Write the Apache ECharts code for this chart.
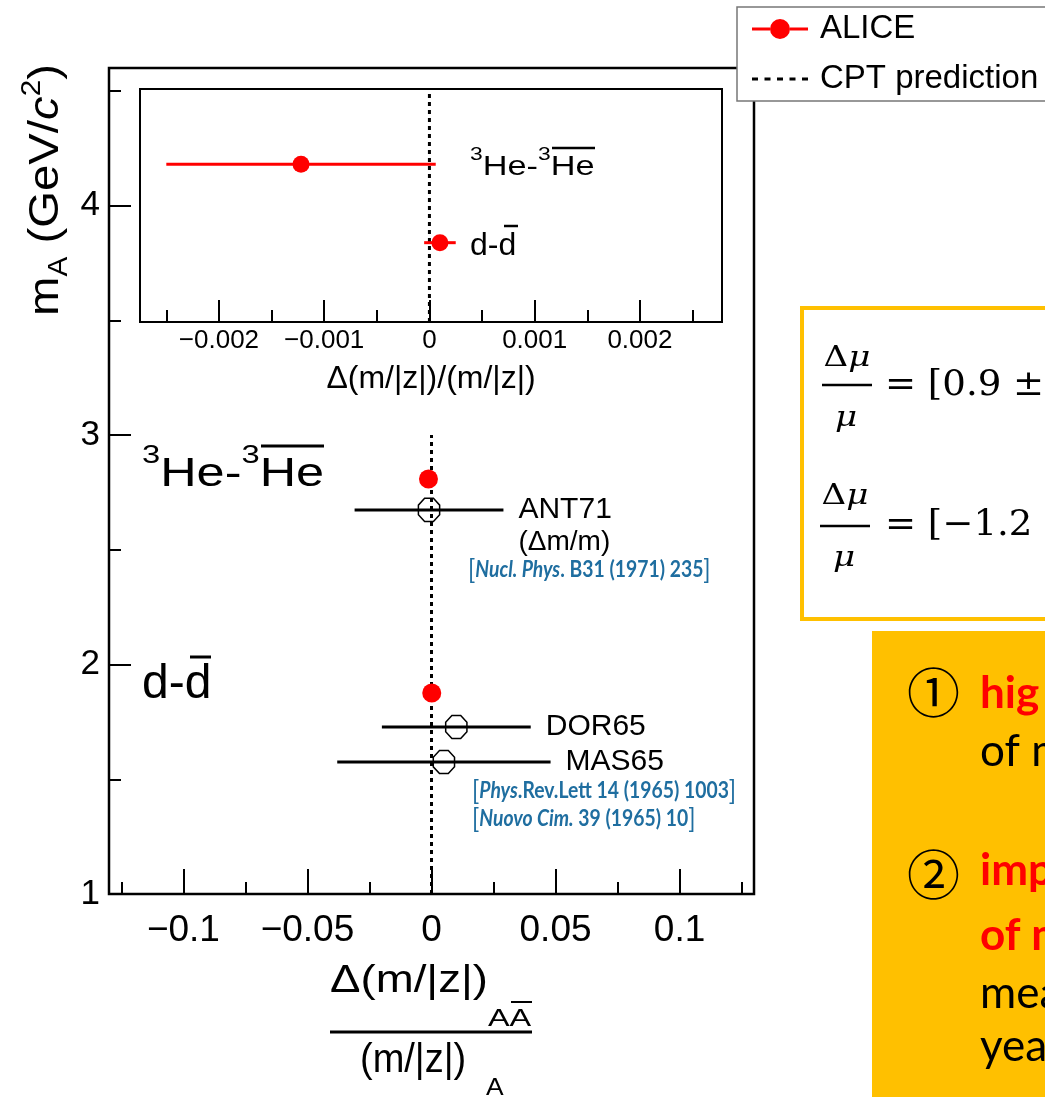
<!DOCTYPE html>
<html>
<head>
<meta charset="utf-8">
<script src="https://cdn.jsdelivr.net/npm/echarts@6/dist/echarts.min.js"></script>
<style>
  html, body { margin: 0; padding: 0; background: #fff; }
  #chart { width: 1045px; height: 1097px; }
</style>
</head>
<body>
<div id="chart"></div>
<script>
// ---- axis ticks ----
const massTicks = [1, 2, 3, 4];
const massMinorTicks = [1.5, 2.5, 3.5, 4.5];
const deltaTicks = [-0.1, -0.05, 0, 0.05, 0.1];
const deltaMinorTicks = [-0.125, -0.075, -0.025, 0.025, 0.075, 0.125];
const zoomTicks = [-0.002, -0.001, 0, 0.001, 0.002];
const zoomMinorTicks = [-0.0025, -0.0015, -0.0005, 0.0005, 0.0015, 0.0025];

// ---- axis ranges ----
const mainDeltaRange = [-0.13, 0.13];
const mainMassRange = [1, 4.6];
const zoomDeltaRange = [-0.00275, 0.00278];
const zoomMassRange = [0.932, 3.705];

// ---- ALICE: relative mass-over-charge difference ----
const aliceSpecies = ['3He', 'd'];
const aliceMass = [2.809, 1.876];
const aliceDelta = [-0.00122, 0.0001];
const aliceError = [0.00128, 0.00015];

// ---- earlier measurements ----
const refNames = ['ANT71', 'DOR65', 'MAS65'];
const refNotes = ['(Δm/m)', '', ''];
const refMass = [2.674, 1.728, 1.575];
const refDelta = [-0.001, 0.01, 0.005];
const refError = [0.030, 0.030, 0.043];

// ---- CPT expectation (no difference) ----
const cptDelta = 0;
const cptMainMass = [1, 3];

const SANS = 'Liberation Sans, Arial, Helvetica, sans-serif';
const CAL = 'Lato, "Open Sans", sans-serif';
const MATH = '"DejaVu Serif", "Liberation Serif", serif';
const CITE = '#1f6ea0';
const GOLD = '#FFC000';

const fmt = v => v === 0 ? '0' : (v < 0 ? '\u2212' + String(-v) : String(v));

function valueAxis(gridIndex, range, extra) {
  return Object.assign({
    type: 'value', gridIndex, min: range[0], max: range[1],
    axisLine: { show: false, onZero: false },
    splitLine: { show: false },
    axisLabel: { show: false },
    axisTick: { show: false }
  }, extra);
}
const tickLine = { color: '#000', width: 2 };

// error bar + open octagon marker + name for the earlier measurements
function renderRef(params, api) {
  const i = params.dataIndex;
  const x = api.value(0), m = api.value(1), e = api.value(2);
  const c = api.coord([x, m]);
  const lo = api.coord([x - e, m]);
  const hi = api.coord([x + e, m]);
  const pts = [];
  for (let k = 0; k < 8; k++) {
    const a = Math.PI / 8 + k * Math.PI / 4;
    pts.push([c[0] + 11.5 * Math.cos(a), c[1] + 12.5 * Math.sin(a)]);
  }
  const children = [
    { type: 'line', shape: { x1: lo[0], y1: c[1], x2: hi[0], y2: c[1] }, style: { stroke: '#000', lineWidth: 3 } },
    { type: 'polygon', shape: { points: pts }, style: { fill: 'none', stroke: '#000', lineWidth: 1.5 } },
    { type: 'text', x: hi[0] + 15, y: c[1], style: { text: refNames[i], fontSize: 30, fontFamily: SANS, fill: '#000', align: 'left', verticalAlign: 'middle' } }
  ];
  if (refNotes[i]) {
    children.push({ type: 'text', x: hi[0] + 15, y: c[1] + 32, style: { text: refNotes[i], fontSize: 28, fontFamily: SANS, fill: '#000', align: 'left', verticalAlign: 'middle' } });
  }
  return { type: 'group', children };
}

// horizontal error bar for the ALICE points
function renderErr(params, api) {
  const x = api.value(0), m = api.value(1), e = api.value(2);
  const lo = api.coord([x - e, m]);
  const hi = api.coord([x + e, m]);
  return { type: 'line', shape: { x1: lo[0], y1: lo[1], x2: hi[0], y2: hi[1] }, style: { stroke: '#ff0000', lineWidth: 3 } };
}

const aliceErrData = aliceSpecies.map((s, i) => [aliceDelta[i], aliceMass[i], aliceError[i]]);
const alicePoints = aliceSpecies.map((s, i) => [aliceDelta[i], aliceMass[i]]);
const refData = refNames.map((n, i) => [refDelta[i], refMass[i], refError[i]]);

// legend icons: line with a dot, and a dotted line (bbox 63 x 20)
const iconAlice = 'path://M0,0H0.1V0.1H0Z M62.9,19.9H63V20H62.9Z M0,8.5H18V11.5H0Z M38,8.5H56V11.5H38Z M18,10A10,10,0,1,0,38,10A10,10,0,1,0,18,10Z';
const iconCpt = 'path://M0,0H0.1V0.1H0Z M62.9,19.9H63V20H62.9Z M0,8.5H6V11.5H0Z M12.5,8.5H18.5V11.5H12.5Z M25,8.5H31V11.5H25Z M37.5,8.5H43.5V11.5H37.5Z M50,8.5H56V11.5H50Z';

function txt(x, y, text, style, extra) {
  return Object.assign({ type: 'text', x, y, silent: true,
    style: Object.assign({ text, fill: '#000', align: 'left', verticalAlign: 'middle' }, style) }, extra || {});
}
function hline(x1, x2, y, w, color) {
  return { type: 'line', silent: true, shape: { x1, y1: y, x2, y2: y }, style: { stroke: color || '#000', lineWidth: w } };
}

const heRich = (big, small, lh) => ({
  t: { fontSize: big, fontFamily: SANS, lineHeight: lh },
  s: { fontSize: small, fontFamily: SANS, lineHeight: small, verticalAlign: 'top' }
});
const citeRich = {
  k: { fontSize: 27, fontFamily: CAL, fill: CITE },
  i: { fontSize: 22, fontFamily: CAL, fontWeight: 'bold', fontStyle: 'italic', fill: CITE },
  b: { fontSize: 22, fontFamily: CAL, fontWeight: 'bold', fill: CITE }
};
const fracRich = {
  u: { fontSize: 28, fontFamily: MATH },
  i: { fontSize: 28, fontFamily: MATH, fontStyle: 'italic' }
};

const graphics = [
  // y-axis title
  txt(46, 190, '{t|m}{s|A}{t| (GeV/}{i|c}{p|2}{t|)}', {
    align: 'center', fontSize: 43, fontFamily: SANS,
    rich: {
      t: { fontSize: 43, fontFamily: SANS, lineHeight: 54 },
      s: { fontSize: 27, fontFamily: SANS, lineHeight: 22, verticalAlign: 'bottom' },
      i: { fontSize: 43, fontFamily: SANS, fontStyle: 'italic', lineHeight: 54 },
      p: { fontSize: 27, fontFamily: SANS, lineHeight: 27, verticalAlign: 'top' }
    }
  }, { rotation: Math.PI / 2, scaleX: 1.1 }),

  // species labels, main panel
  txt(142, 475, '{s|3}{t|He-}{s|3}{t|He}', { rich: heRich(40, 26, 64) }, { scaleX: 1.26 }),
  hline(261, 324, 446, 3),
  txt(142, 685, 'd-d', { fontSize: 48, fontFamily: SANS }),
  hline(190, 211, 657, 3),

  // species labels, zoomed panel
  txt(470, 168, '{s|3}{t|He-}{s|3}{t|He}', { rich: heRich(27, 18, 44) }, { scaleX: 1.27 }),
  hline(552, 595, 148, 2.5),
  txt(470, 246, 'd-d', { fontSize: 32, fontFamily: SANS }),
  hline(504, 518, 226, 2.5),

  // x-axis title of the main panel (fraction)
  txt(330, 982, 'Δ(m/|z|)', { fontSize: 38, fontFamily: SANS }, { scaleX: 1.2 }),
  txt(488, 1019, 'AA', { fontSize: 24, fontFamily: SANS }, { scaleX: 1.35 }),
  hline(511, 532, 1002, 2),
  hline(330, 532, 1032, 3),
  txt(360, 1061, '(m/|z|)', { fontSize: 40, fontFamily: SANS }, { scaleX: 0.95 }),
  txt(486, 1088, 'A', { fontSize: 24, fontFamily: SANS }, { scaleX: 1.1 }),

  // references
  txt(468, 570, '{k|[}{i|Nucl. Phys}{b|. B31 (1971) 235}{k|]}', { rich: citeRich }, { scaleX: 0.88 }),
  txt(472, 791, '{k|[}{i|Phys}{b|.Rev.Lett 14 (1965) 1003}{k|]}', { rich: citeRich }, { scaleX: 0.88 }),
  txt(472, 819, '{k|[}{i|Nuovo Cim.}{b| 39 (1965) 10}{k|]}', { rich: citeRich }, { scaleX: 0.88 }),

  // result box
  { type: 'rect', silent: true, shape: { x: 802, y: 308, width: 400, height: 311 }, style: { fill: '#fff', stroke: GOLD, lineWidth: 4 } },
  txt(847, 359, '{u|Δ}{i|μ}', { align: 'center', rich: fracRich }, { scaleX: 1.22 }),
  hline(822, 872, 385, 2.5),
  txt(846, 419, 'μ', { align: 'center', fontSize: 28, fontFamily: MATH, fontStyle: 'italic' }, { scaleX: 1.22 }),
  txt(885, 386, '= [0.9 ±', { fontSize: 36, fontFamily: MATH }, { scaleX: 1.03 }),
  txt(845, 497, '{u|Δ}{i|μ}', { align: 'center', rich: fracRich }, { scaleX: 1.22 }),
  hline(820, 870, 526, 2.5),
  txt(844, 559, 'μ', { align: 'center', fontSize: 28, fontFamily: MATH, fontStyle: 'italic' }, { scaleX: 1.22 }),
  txt(885, 526, '= [\u22121.2 ±', { fontSize: 36, fontFamily: MATH }, { scaleX: 1.03 }),

  // highlight box
  { type: 'rect', silent: true, shape: { x: 872, y: 631, width: 300, height: 500 }, style: { fill: GOLD } },
  txt(907, 693, '①', { fontSize: 53, fontFamily: '"Noto Sans CJK JP"' }),
  txt(980, 694, 'hig', { fontSize: 44, fontFamily: CAL, fontWeight: 'bold', fill: '#ff0000' }),
  txt(980, 752, 'of m', { fontSize: 44, fontFamily: CAL }),
  txt(907, 875, '②', { fontSize: 53, fontFamily: '"Noto Sans CJK JP"' }),
  txt(980, 871, 'imp', { fontSize: 44, fontFamily: CAL, fontWeight: 'bold', fill: '#ff0000' }),
  txt(980, 936, 'of m', { fontSize: 44, fontFamily: CAL, fontWeight: 'bold', fill: '#ff0000' }),
  txt(980, 994, 'mea', { fontSize: 44, fontFamily: CAL }),
  txt(980, 1047, 'yea', { fontSize: 44, fontFamily: CAL })
];

const chart = echarts.init(document.getElementById('chart'), null, { renderer: 'canvas' });
chart.setOption({
  animation: false,
  backgroundColor: '#fff',
  grid: [
    { left: 109, top: 68, width: 645, height: 826, show: true, backgroundColor: '#fff', borderColor: '#000', borderWidth: 2.5, outerBoundsMode: 'none', containLabel: false },
    { left: 140, top: 89, width: 582, height: 233, show: true, backgroundColor: '#fff', borderColor: '#000', borderWidth: 2, outerBoundsMode: 'none', containLabel: false }
  ],
  xAxis: [
    valueAxis(0, mainDeltaRange, {
      position: 'bottom',
      axisTick: { show: true, inside: true, length: 25, customValues: deltaTicks, lineStyle: tickLine },
      axisLabel: { show: true, customValues: deltaTicks, formatter: fmt, fontSize: 37, lineHeight: 37, fontFamily: SANS, color: '#000', margin: 18 }
    }),
    valueAxis(0, mainDeltaRange, {
      position: 'bottom',
      axisTick: { show: true, inside: true, length: 12, customValues: deltaMinorTicks, lineStyle: tickLine }
    }),
    valueAxis(1, zoomDeltaRange, {
      position: 'bottom',
      axisTick: { show: true, inside: true, length: 22, customValues: zoomTicks, lineStyle: tickLine },
      axisLabel: { show: true, customValues: zoomTicks, formatter: fmt, fontSize: 26, lineHeight: 26, fontFamily: SANS, color: '#000', margin: 6 },
      name: 'Δ(m/|z|)/(m/|z|)', nameLocation: 'middle', nameGap: 41,
      nameTextStyle: { fontSize: 32, fontFamily: SANS, color: '#000', lineHeight: 32 }
    }),
    valueAxis(1, zoomDeltaRange, {
      position: 'bottom',
      axisTick: { show: true, inside: true, length: 12, customValues: zoomMinorTicks, lineStyle: tickLine }
    })
  ],
  yAxis: [
    valueAxis(0, mainMassRange, {
      position: 'left',
      axisTick: { show: true, inside: true, length: 22, customValues: massTicks, lineStyle: tickLine },
      axisLabel: { show: true, customValues: massTicks, fontSize: 35, fontFamily: SANS, color: '#000', margin: 9 }
    }),
    valueAxis(0, mainMassRange, {
      position: 'left',
      axisTick: { show: true, inside: true, length: 12, customValues: massMinorTicks, lineStyle: tickLine }
    }),
    valueAxis(1, zoomMassRange, { position: 'left' })
  ],
  legend: {
    left: 737, top: 7, orient: 'vertical',
    padding: [4, 80, 4, 15], itemGap: 14, itemWidth: 63, itemHeight: 20,
    backgroundColor: '#fff', borderColor: '#777', borderWidth: 1.5,
    selectedMode: false,
    textStyle: { fontSize: 33, lineHeight: 36, fontFamily: SANS, color: '#000' },
    data: [
      { name: 'ALICE', icon: iconAlice, itemStyle: { color: '#ff0000', borderWidth: 0 } },
      { name: 'CPT prediction', icon: iconCpt, itemStyle: { color: '#000', borderWidth: 0 } }
    ]
  },
  series: [
    { type: 'line', name: 'CPT prediction', xAxisIndex: 0, yAxisIndex: 0, silent: true, z: 2,
      data: cptMainMass.map(m => [cptDelta, m]), symbol: 'none',
      itemStyle: { color: '#000' }, lineStyle: { color: '#000', width: 3, type: [4, 4] } },
    { type: 'line', name: 'CPT prediction', xAxisIndex: 2, yAxisIndex: 2, silent: true, z: 2,
      data: zoomMassRange.map(m => [cptDelta, m]), symbol: 'none',
      itemStyle: { color: '#000' }, lineStyle: { color: '#000', width: 3, type: [4, 4] } },
    { type: 'custom', name: 'earlier', xAxisIndex: 0, yAxisIndex: 0, silent: true, z: 3,
      data: refData, encode: { x: 0, y: 1 }, renderItem: renderRef },
    { type: 'custom', name: 'ALICE', xAxisIndex: 0, yAxisIndex: 0, silent: true, z: 3,
      data: aliceErrData, encode: { x: 0, y: 1 }, renderItem: renderErr, itemStyle: { color: '#ff0000' } },
    { type: 'scatter', name: 'ALICE', xAxisIndex: 0, yAxisIndex: 0, silent: true, z: 4,
      data: alicePoints, symbol: 'circle', symbolSize: 19, itemStyle: { color: '#ff0000', opacity: 1 } },
    { type: 'custom', name: 'ALICE', xAxisIndex: 2, yAxisIndex: 2, silent: true, z: 3,
      data: aliceErrData, encode: { x: 0, y: 1 }, renderItem: renderErr, itemStyle: { color: '#ff0000' } },
    { type: 'scatter', name: 'ALICE', xAxisIndex: 2, yAxisIndex: 2, silent: true, z: 4,
      data: alicePoints, symbol: 'circle', symbolSize: 17, itemStyle: { color: '#ff0000', opacity: 1 } }
  ],
  graphic: { elements: graphics }
});
</script>
</body>
</html>
